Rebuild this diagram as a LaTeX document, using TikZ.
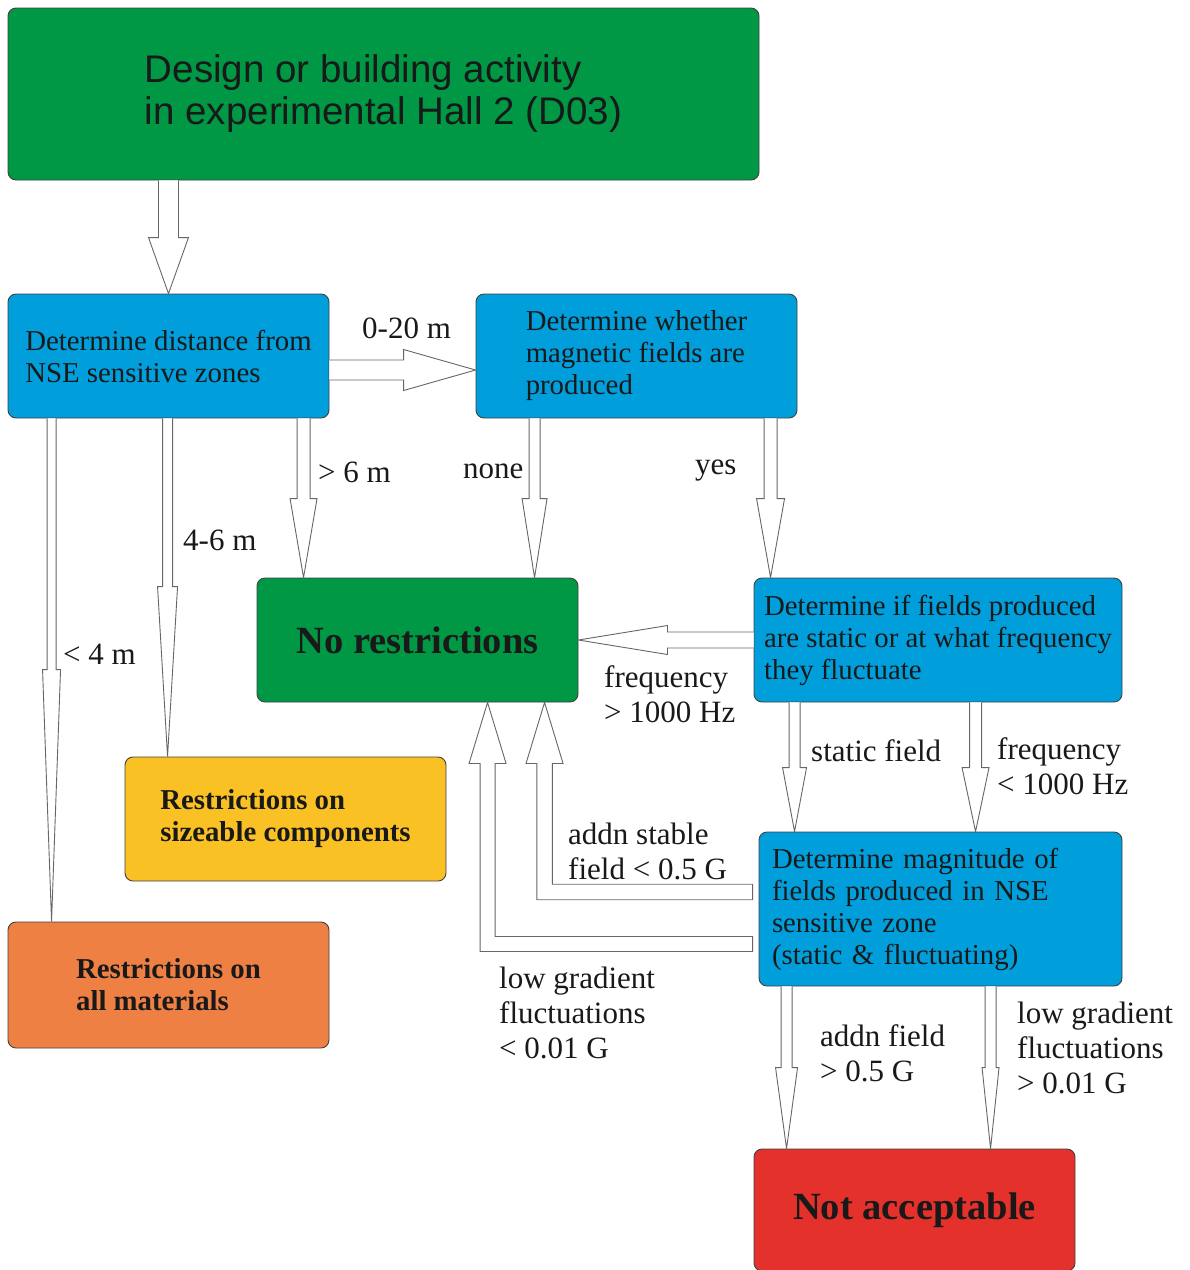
\documentclass[tikz,border=0pt]{standalone}
\usepackage{fontspec}
\setmainfont{Liberation Serif}
\newfontfamily\headfont{Liberation Sans}
\usetikzlibrary{calc}
\definecolor{boxgreen}{RGB}{0,152,68}
\definecolor{boxblue}{RGB}{0,158,219}
\definecolor{boxyellow}{RGB}{250,193,36}
\definecolor{boxorange}{RGB}{239,128,68}
\definecolor{boxred}{RGB}{228,49,43}
\tikzset{
  box/.style={draw=black!75,rounded corners=8pt,line width=0.9pt,minimum width=321pt,minimum height=124pt,align=left,inner sep=0pt,text=black!90,font=\fontsize{28.8}{32}\selectfont},
  query/.style={box,fill=boxblue},
  verdict/.style={box,font=\fontsize{38.5}{44}\selectfont\bfseries},
  limit/.style={box,font=\fontsize{28.8}{32}\selectfont\bfseries},
  barrow/.style={draw=black!60,fill=white,line width=0.9pt,line join=miter},
  lbl/.style={anchor=west,align=left,inner sep=0pt,text=black!90,font=\fontsize{31}{35}\selectfont}
}
% hollow straight arrow: from, to, shaft half width, head half width, head length
\newcommand{\hollowarrow}[5]{%
  \path #1 coordinate (ha) #2 coordinate (hb);
  \path ($(hb)!#5!(ha)$) coordinate (hc);
  \draw[barrow] ($(ha)!#3!90:(hb)$) -- ($(hc)!#3!90:(hb)$) -- ($(hc)!#4!90:(hb)$) -- (hb)
    -- ($(hc)!#4!-90:(hb)$) -- ($(hc)!#3!-90:(hb)$) -- ($(ha)!#3!-90:(hb)$);
}
% hollow arrow going left, then up: start, tip, shaft half width, head half width, head length
\newcommand{\elbowarrow}[5]{%
  \path #1 coordinate (ha) #2 coordinate (hb);
  \path (hb |- ha) coordinate (hk) ($(hb)+(0,#5)$) coordinate (hc);
  \draw[barrow] ($(ha)+(0,-#3)$) -- ($(hk)+(#3,-#3)$) -- ($(hc)+(#3,0)$) -- ($(hc)+(#4,0)$) -- (hb)
    -- ($(hc)+(-#4,0)$) -- ($(hc)+(-#3,0)$) -- ($(hk)+(-#3,#3)$) -- ($(ha)+(0,#3)$) -- cycle;
}

\begin{document}
\begin{tikzpicture}[x=1pt,y=-1pt]
  \useasboundingbox (0,0) rectangle (1190,1270);

  \node[box,fill=boxgreen,minimum width=751pt,minimum height=172pt,font=\headfont\fontsize{38.5}{42}\selectfont] (hall) at (383.5,94) {Design or building activity\\in experimental Hall 2 (D03)};
  \node[query] (dist) at (168.5,356) {Determine distance from\\NSE sensitive zones};
  \node[query] (fields) at (636.5,356) {Determine whether\\magnetic fields are\\produced};
  \node[verdict,fill=boxgreen] (nores) at (417.5,640) {No restrictions};
  \node[query,minimum width=368pt] (freq) at (938,640) {Determine if fields produced\\are static or at what frequency\\they fluctuate};
  \node[limit,fill=boxyellow] (sizeable) at (285.5,819) {Restrictions on\\sizeable components};
  \node[query,minimum width=363pt,minimum height=154pt,text width=337pt] (magn) at (940.5,909) {Determine magnitude of\\fields produced in NSE\\sensitive zone\\(static \& fluctuating)};
  \node[limit,fill=boxorange,minimum height=126pt] (allmat) at (168.5,985) {Restrictions on\\all materials};
  \node[verdict,fill=boxred,minimum height=122pt] (unacc) at (914.5,1210) {Not acceptable};

  % connectors
  \hollowarrow{(hall.south -| dist.north)}{(dist.north)}{10pt}{20pt}{56pt}
  \hollowarrow{($(dist.east)+(0,14)$)}{($(fields.west)+(0,14)$)}{10pt}{20.5pt}{72pt}
  \hollowarrow{($(dist.south west)+(296,0)$)}{($(nores.north west)+(47,0)$)}{6.5pt}{13.5pt}{79pt}
  \hollowarrow{($(dist.south west)+(160,0)$)}{($(sizeable.north west)+(43,0)$)}{5pt}{10pt}{170pt}
  \hollowarrow{($(dist.south west)+(44,0)$)}{($(allmat.north west)+(44,0)$)}{4.5pt}{9pt}{252pt}
  \hollowarrow{($(fields.south west)+(59,0)$)}{($(nores.north west)+(278,0)$)}{5.5pt}{12.5pt}{79pt}
  \hollowarrow{($(fields.south west)+(295,0)$)}{($(freq.north west)+(17,0)$)}{6.5pt}{14pt}{79pt}
  \hollowarrow{(freq.west)}{(nores.east)}{8pt}{14.5pt}{89pt}
  \hollowarrow{($(freq.south west)+(41,0)$)}{($(magn.north west)+(36,0)$)}{5.5pt}{12pt}{64pt}
  \hollowarrow{($(freq.south west)+(222,0)$)}{($(magn.north west)+(217,0)$)}{6pt}{13.5pt}{64pt}
  \hollowarrow{($(magn.south west)+(28,0)$)}{($(unacc.north west)+(33,0)$)}{5.5pt}{11pt}{81pt}
  \hollowarrow{($(magn.south west)+(232,0)$)}{($(unacc.north west)+(237,0)$)}{5.5pt}{8.5pt}{81pt}
  \elbowarrow{($(magn.west)+(-6,-17)$)}{($(nores.south west)+(288,0)$)}{7.75}{18.5}{61}
  \elbowarrow{($(magn.west)+(-6,35)$)}{($(nores.south west)+(231,0)$)}{7.5}{18.5}{61}

  % labels
  \node[lbl] (l020) at (362,328) {0-20 m};
  \node[lbl] (lmore6) at (318,472) {> 6 m};
  \node[lbl] (l46) at (183,540) {4-6 m};
  \node[lbl] (lless4) at (63,654) {< 4 m};
  \node[lbl] (lnone) at (463,471) {none};
  \node[lbl] (lyes) at (695,471) {yes};
  \node[lbl] (lhigh) at (604,694) {frequency\\> 1000 Hz};
  \node[lbl] (lstatic) at (811,751) {static field};
  \node[lbl] (llow) at (997,766) {frequency\\< 1000 Hz};
  \node[lbl] (lstable) at (568,851) {addn stable\\field < 0.5 G};
  \node[lbl] (lgradlow) at (499,1013) {low gradient\\fluctuations\\< 0.01 G};
  \node[lbl] (laddn) at (820,1053) {addn field\\> 0.5 G};
  \node[lbl] (lgradhigh) at (1017,1048) {low gradient\\fluctuations\\> 0.01 G};
\end{tikzpicture}
\end{document}
